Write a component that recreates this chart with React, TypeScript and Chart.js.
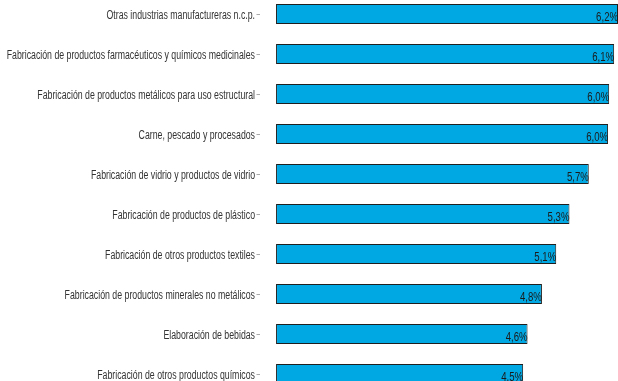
import React, { useEffect, useRef } from "react";
import { Chart, registerables } from "chart.js";

Chart.register(...registerables);

const categories = [
  "Otras industrias manufactureras n.c.p.",
  "Fabricación de productos farmacéuticos y químicos medicinales",
  "Fabricación de productos metálicos para uso estructural",
  "Carne, pescado y procesados",
  "Fabricación de vidrio y productos de vidrio",
  "Fabricación de productos de plástico",
  "Fabricación de otros productos textiles",
  "Fabricación de productos minerales no metálicos",
  "Elaboración de bebidas",
  "Fabricación de otros productos químicos",
];

const values = [6.2, 6.13, 6.04, 6.02, 5.67, 5.32, 5.08, 4.82, 4.56, 4.48];

const FONT = '"Liberation Sans", Arial, sans-serif';
const LABEL_NARROW = 0.73;
const VALUE_NARROW = 0.8;

const formatPct = (v: number) => v.toFixed(1).replace(".", ",") + "%";

const narrowText = {
  id: "narrowText",
  afterDatasetsDraw(chart: any) {
    const ctx = chart.ctx;
    const meta = chart.getDatasetMeta(0);
    ctx.save();
    ctx.font = `12px ${FONT}`;
    ctx.fillStyle = "#1a1a1a";
    ctx.textAlign = "right";
    ctx.textBaseline = "alphabetic";
    meta.data.forEach((bar: any, i: number) => {
      ctx.save();
      ctx.translate(bar.x, bar.y + 6.5);
      ctx.scale(VALUE_NARROW, 1);
      ctx.fillText(formatPct(values[i]), 0, 0);
      ctx.restore();
    });
    ctx.restore();

    const yScale = chart.scales.y;
    ctx.save();
    ctx.font = `12px ${FONT}`;
    ctx.fillStyle = "#333";
    ctx.textAlign = "right";
    ctx.textBaseline = "alphabetic";
    categories.forEach((label, i) => {
      const y = yScale.getPixelForTick(i);
      ctx.save();
      ctx.translate(yScale.right - 4.5, y + 4.5);
      ctx.scale(LABEL_NARROW, 1);
      ctx.fillText(label, 0, 0);
      ctx.restore();
    });
    ctx.restore();
  },
};

export default function App() {
  const ref = useRef<HTMLCanvasElement | null>(null);
  useEffect(() => {
    if (!ref.current) return;
    const chart = new Chart(ref.current, {
      type: "bar",
      data: {
        labels: categories,
        datasets: [
          {
            data: values,
            backgroundColor: "#00a8e3",
            borderColor: "#1f1f1f",
            borderWidth: 1,
            borderSkipped: false,
            barPercentage: 0.5,
            categoryPercentage: 1,
            clip: false as any,
          },
        ],
      },
      options: {
        indexAxis: "y",
        animation: false,
        responsive: false,
        layout: { padding: { top: 20, bottom: 20, left: 0, right: 0 } },
        plugins: { legend: { display: false }, tooltip: { enabled: false } },
        scales: {
          x: { display: false, min: -0.3, max: 6.2 },
          y: {
            afterFit: (scale: any) => {
              scale.width = 259.5;
            },
            border: { display: false },
            grid: {
              display: true,
              offset: false,
              drawOnChartArea: false,
              drawTicks: true,
              tickLength: 3,
              tickColor: "#aaa",
              lineWidth: 1,
            },
            ticks: {
              display: false,
            },
          },
        },
      },
      plugins: [narrowText],
    });
    return () => chart.destroy();
  }, []);
  return (
    <div style={{ position: "fixed", left: 0, top: -26, width: 618, height: 440, background: "#fff" }}>
      <canvas ref={ref} width={618} height={440} style={{ display: "block" }} />
    </div>
  );
}
